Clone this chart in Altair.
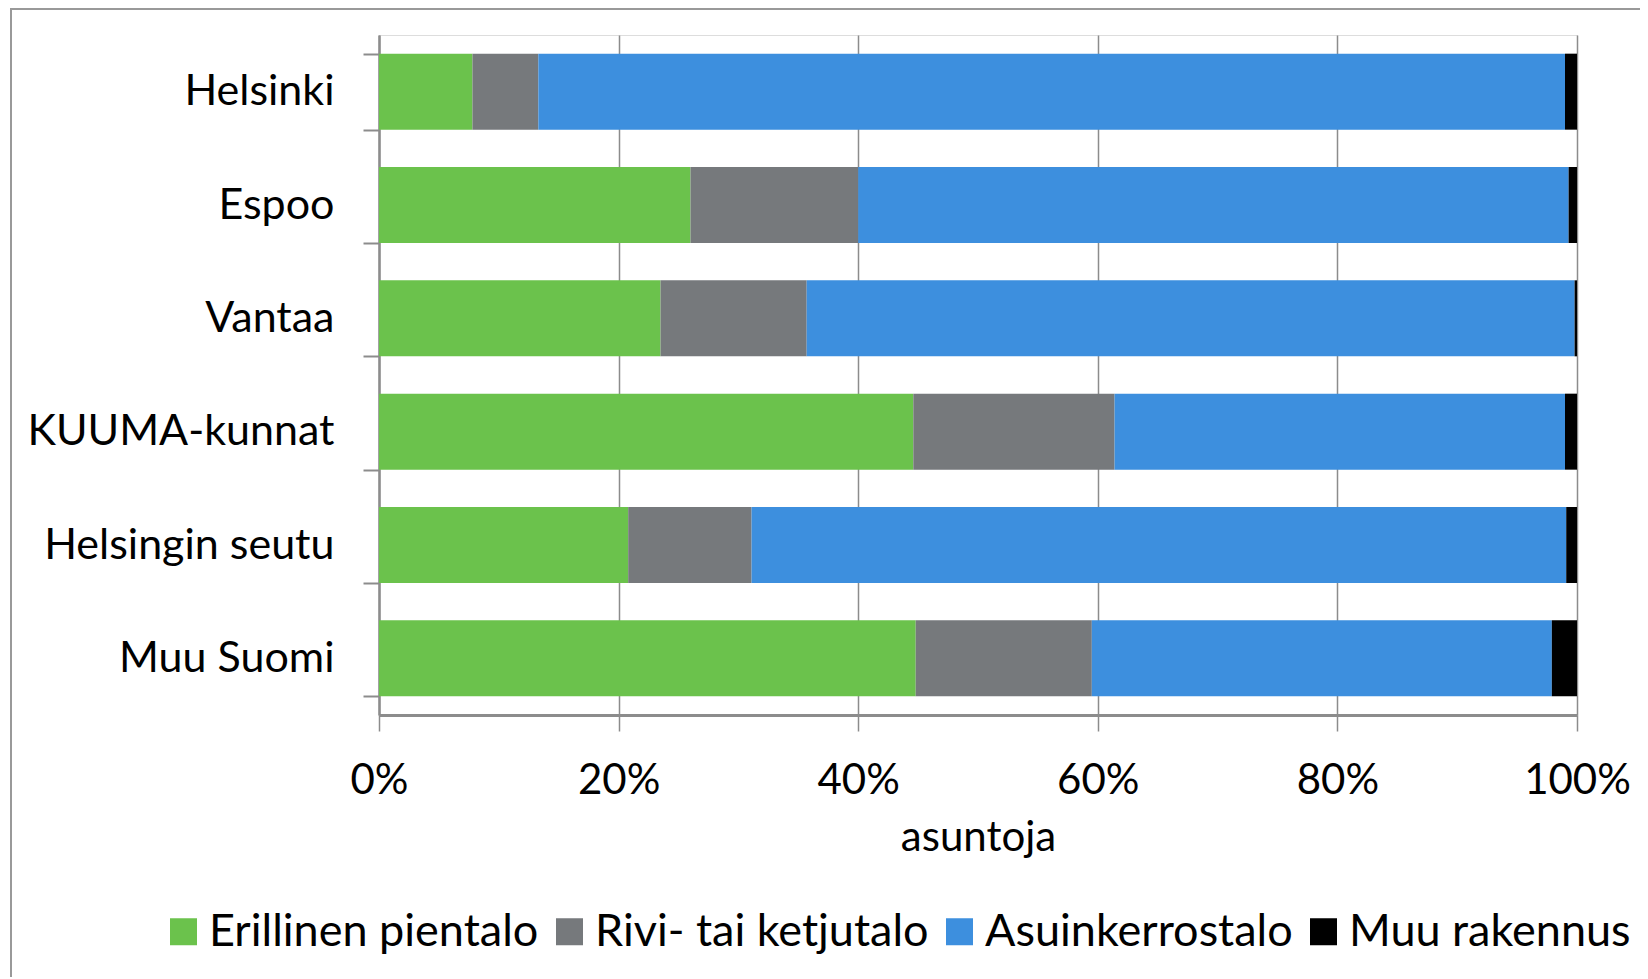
import altair as alt
import pandas as pd

regions = ["Helsinki", "Espoo", "Vantaa", "KUUMA-kunnat", "Helsingin seutu", "Muu Suomi"]
types = ["Erillinen pientalo", "Rivi- tai ketjutalo", "Asuinkerrostalo", "Muu rakennus"]
colors = ["#6bc24c", "#76797c", "#3d8fde", "#000000"]

erillinen = [7.8, 26.0, 23.5, 44.6, 20.8, 44.8]
rivi = [5.5, 14.0, 12.2, 16.8, 10.3, 14.7]
kerros = [85.7, 59.3, 64.1, 37.6, 68.0, 38.4]
muu = [1.0, 0.7, 0.2, 1.0, 0.9, 2.1]

series = [erillinen, rivi, kerros, muu]
rows = []
for ti, (t, vals) in enumerate(zip(types, series)):
    for r, v in zip(regions, vals):
        rows.append({"alue": r, "tyyppi": t, "osuus": v / 100.0, "jarj": ti})
df = pd.DataFrame(rows)

FONT = "Lato"
GRID = "#8c8c8c"

bars = alt.Chart(df).mark_bar(size=76).encode(
    y=alt.Y("alue:N", sort=regions, title=None,
            scale=alt.Scale(paddingInner=0.33),
            axis=alt.Axis(labelFontSize=43, labelFont=FONT, labelColor="#000",
                          labelPadding=29, labelLimit=500, tickBand="extent", tickSize=16,
                          tickColor=GRID, tickWidth=2, domainColor=GRID,
                          domainWidth=2.5, grid=False)),
    x=alt.X("osuus:Q", stack="normalize", title="asuntoja",
            scale=alt.Scale(domain=[0, 1]),
            axis=alt.Axis(format=".0%", values=[0, 0.2, 0.4, 0.6, 0.8, 1.0],
                          labelFontSize=42, labelFont=FONT, labelColor="#000",
                          labelFlush=False,
                          labelPadding=29, tickSize=16, tickColor=GRID,
                          tickWidth=1.5, domainColor=GRID, domainWidth=3,
                          gridColor=GRID, gridWidth=1.5,
                          titleFontSize=42, titleFont=FONT, titleFontWeight="normal",
                          titleColor="#000", titlePadding=16)),
    color=alt.Color("tyyppi:N", sort=types,
                    scale=alt.Scale(domain=types, range=colors),
                    legend=alt.Legend(title=None, orient="none", direction="horizontal",
                                      columns=4, legendX=-218, legendY=874,
                                      symbolType="square", symbolSize=729,
                                      symbolStrokeWidth=0, labelFontSize=45,
                                      labelFont=FONT, labelColor="#000",
                                      labelOffset=3, columnPadding=8,
                                      labelLimit=600)),
    order=alt.Order("jarj:Q", sort="ascending"),
)

frame = alt.Chart(pd.DataFrame({"k": [0]})).mark_rect(
    fill=None, stroke="#999999", strokeWidth=2
).encode(
    x=alt.value(-368), x2=alt.value(1400),
    y=alt.value(-26), y2=alt.value(1100),
)

chart = alt.layer(frame, bars).properties(
    width=1198, height=680,
    autosize=alt.AutoSizeParams(type="none"),
    padding={"left": 371, "top": 27, "right": 63, "bottom": 262},
).configure_view(stroke=GRID, strokeWidth=1.5).configure(background="white")

chart.save("out.html", embed_options={"renderer": "svg", "actions": False})
